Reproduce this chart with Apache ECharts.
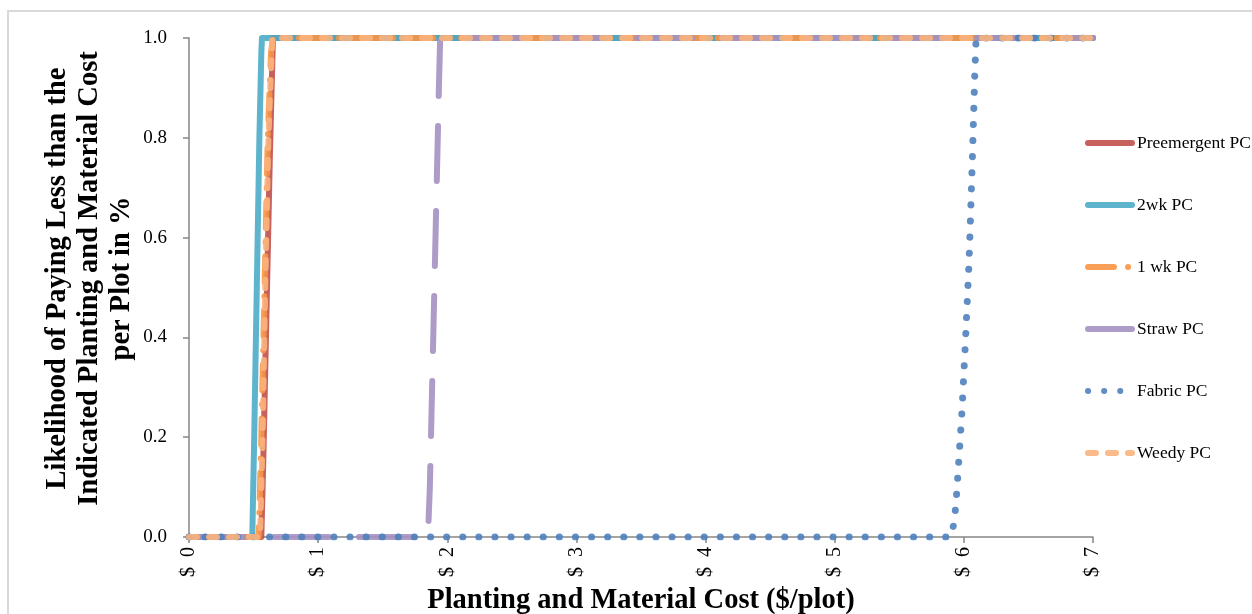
<!DOCTYPE html>
<html>
<head>
<meta charset="utf-8">
<script src="https://cdn.jsdelivr.net/npm/echarts@6/dist/echarts.min.js"></script>
<style>html,body{margin:0;padding:0;background:#fff}#c{width:1252px;height:614px}</style>
</head>
<body>
<div id="c"></div>
<script>
// ---- data (x = $/plot, y = cumulative likelihood) ----
const seriesNames = ['Preemergent PC', '2wk PC', '1 wk PC', 'Straw PC', 'Fabric PC', 'Weedy PC'];
const xTicks = [0, 1, 2, 3, 4, 5, 6, 7];
const yTicks = [0, 0.2, 0.4, 0.6, 0.8, 1.0];

const preemergent = [[0,0],[0.56,0],[0.575,0.15],[0.6,0.45],[0.625,0.75],[0.645,0.95],[0.65,1],[7,1]];
const twoWk       = [[0,0],[0.49,0],[0.505,0.2],[0.525,0.5],[0.545,0.8],[0.56,0.97],[0.565,1],[7,1]];
const oneWk       = [[0,0],[0.54,0],[0.56,0.2],[0.585,0.5],[0.61,0.8],[0.635,0.97],[0.65,1],[7,1]];
const straw       = [[0,0],[1.85,0],[1.865,0.1],[1.9,0.5],[1.935,0.9],[1.945,1],[7,1]];
const fabric      = [[0,0],[5.9,0],[5.925,0.03],[5.94,0.07],[5.96,0.15],[5.985,0.25],[6.01,0.38],[6.04,0.55],[6.065,0.75],[6.085,0.93],[6.095,1],[7,1]];
const weedy       = [[0,0],[0.55,0],[0.57,0.2],[0.59,0.5],[0.615,0.8],[0.64,0.97],[0.645,1],[7,1]];

const seriesData = [preemergent, twoWk, oneWk, straw, fabric, weedy];
const colors = ['#C0504D', '#4BACC6', '#F79646', '#A391C1', '#4F81BD', '#F9B27C'];
const dashes = ['solid', 'solid', [26, 14, 0.1, 14], [55, 30], [0.1, 16], [8, 12]];
const widths = [6, 6, 6, 6, 7, 6];

const serif = '"Liberation Serif", "DejaVu Serif", serif';

const chart = echarts.init(document.getElementById('c'));
chart.setOption({
  animation: false,
  backgroundColor: '#fff',
  graphic: [{
    type: 'rect', shape: { x: 8, y: 11, width: 1300, height: 700 },
    style: { fill: 'none', stroke: '#d9d9d9', lineWidth: 2 }, silent: true, z: -10
  }],
  grid: { left: 189, right: 159, top: 38, bottom: 77, containLabel: false, outerBoundsMode: 'none' },
  legend: {
    orient: 'vertical', left: 1085, top: 134, padding: 0,
    itemWidth: 44, itemHeight: 14, itemGap: 44,
    itemStyle: { color: 'rgba(0,0,0,0)', borderWidth: 0, opacity: 0 },
    lineStyle: { width: 6, cap: 'round' },
    textStyle: { fontFamily: serif, fontSize: 17.5, color: '#000' },
    data: seriesNames
  },
  xAxis: {
    type: 'value', min: 0, max: 7, interval: 1,
    name: 'Planting and Material Cost ($/plot)',
    nameLocation: 'middle', nameGap: 49,
    nameTextStyle: { fontFamily: serif, fontSize: 28.5, fontWeight: 'bold', color: '#000' },
    axisLine: { lineStyle: { color: '#868686', width: 1.5 } },
    axisTick: { show: true, length: 6, lineStyle: { color: '#868686', width: 1.5 } },
    splitLine: { show: false },
    axisLabel: {
      rotate: 90, margin: 10, fontFamily: serif, fontSize: 20, color: '#000',
      formatter: v => xTicks.indexOf(v) >= 0 ? '$  ' + v : ''
    }
  },
  yAxis: {
    type: 'value', min: 0, max: 1, interval: 0.2,
    name: 'Likelihood of Paying Less than the\nIndicated Planting and Material Cost\nper Plot in %',
    nameLocation: 'middle', nameGap: 51, nameRotate: 90, nameMoveOverlap: false,
    nameTextStyle: { fontFamily: serif, fontSize: 28.5, fontWeight: 'bold', color: '#000', lineHeight: 32, padding: [0, 0, 0, 18] },
    axisLine: { show: true, lineStyle: { color: '#868686', width: 1.5 } },
    axisTick: { show: true, length: 6, lineStyle: { color: '#868686', width: 1.5 } },
    splitLine: { show: false },
    axisLabel: {
      margin: 22, fontFamily: serif, fontSize: 19, color: '#000',
      formatter: v => yTicks.some(t => Math.abs(t - v) < 1e-9) ? v.toFixed(1) : ''
    }
  },
  series: seriesNames.map((n, i) => ({
    name: n, type: 'line', data: seriesData[i], symbol: 'none',
    color: colors[i],
    lineStyle: { color: colors[i], width: widths[i], type: dashes[i], cap: 'round', join: 'round', opacity: 0.9 },
    z: 2 + i
  }))
});
</script>
</body>
</html>
